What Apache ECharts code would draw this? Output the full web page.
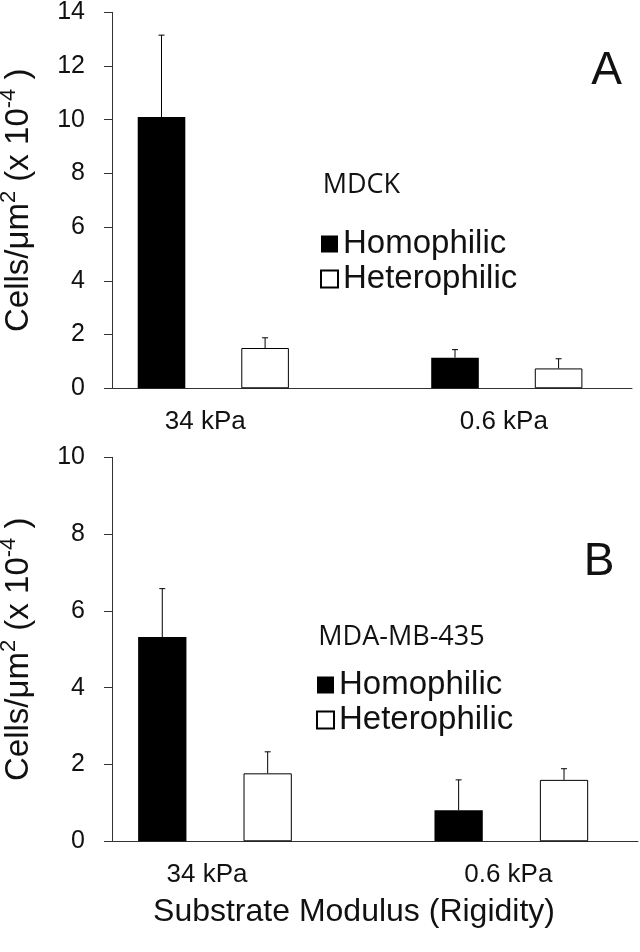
<!DOCTYPE html>
<html>
<head>
<meta charset="utf-8">
<script src="https://cdn.jsdelivr.net/npm/echarts@6/dist/echarts.min.js"></script>
<style>html,body{margin:0;padding:0;background:#fff;}#c{width:640px;height:952px;}</style>
</head>
<body>
<div id="c"></div>
<script>
// ---- data ----
const categories = ['34 kPa', '0.6 kPa'];
const seriesNames = ['Homophilic', 'Heterophilic'];
// Panel A (MDCK)
const homoA = [10.1, 1.14];
const homoErrA = [3.05, 0.30];
const heteroA = [1.50, 0.74];
const heteroErrA = [0.38, 0.36];
const yMaxA = 14, yStepA = 2;
// Panel B (MDA-MB-435)
const homoB = [5.32, 0.81];
const homoErrB = [1.26, 0.79];
const heteroB = [1.77, 1.60];
const heteroErrB = [0.56, 0.29];
const yMaxB = 10, yStepB = 2;

const FONT = '"Liberation Sans", Arial, sans-serif';
const TXT = '#111';
const LINE = '#333';

const chart = echarts.init(document.getElementById('c'), null, {renderer: 'canvas'});

function errRender(off) {
  return function (params, api) {
    const cat = api.value(0), v = api.value(1), e = api.value(2);
    const base = api.coord([cat, v]);
    const top = api.coord([cat, v + e]);
    const x = base[0] + off;
    const st = {stroke: '#000', lineWidth: 1};
    return {
      type: 'group',
      children: [
        {type: 'line', shape: {x1: x, y1: base[1], x2: x, y2: top[1]}, style: st},
        {type: 'line', shape: {x1: x - 3, y1: top[1], x2: x + 3, y2: top[1]}, style: st}
      ]
    };
  };
}
function errData(vals, errs) {
  return vals.map((v, i) => [i, v, errs[i]]);
}

const yName = '{m|Cells/\u03bcm}{s|2}{m| (x 10}{s|-4}{m| )}';
const yNameRich = {
  m: {fontSize: 33, fontFamily: FONT, color: TXT, lineHeight: 42},
  s: {fontSize: 22, fontFamily: FONT, color: TXT, lineHeight: 24, verticalAlign: 'top'}
};

function visAxes(gridIdx, max, step) {
  return {
    x: {
      type: 'category', gridIndex: gridIdx, data: categories,
      axisLine: {show: true, lineStyle: {color: LINE, width: 1}},
      axisTick: {show: false}, axisLabel: {show: false}
    },
    y: {
      type: 'value', gridIndex: gridIdx, min: 0, max: max, interval: step,
      axisLine: {show: true, lineStyle: {color: LINE, width: 1}},
      axisTick: {show: true, length: 8, lineStyle: {color: LINE, width: 1}},
      axisLabel: {fontSize: 25, fontFamily: FONT, color: TXT, margin: 27},
      splitLine: {show: false},
      name: yName, nameLocation: 'middle', nameGap: 72,
      nameTextStyle: {rich: yNameRich}
    }
  };
}
function barAxes(gridIdx, max, step) {
  return {
    x: {
      type: 'category', gridIndex: gridIdx, data: categories,
      axisLine: {show: false}, axisTick: {show: false},
      axisLabel: {
        fontSize: 26, fontFamily: FONT, color: TXT, margin: 21,
        formatter: function (v, i) { return i === 0 ? '{l|' + v + '}' : '{r|' + v + '}'; },
        rich: {
          l: {fontSize: 26, fontFamily: FONT, color: TXT, padding: [0, 16, 0, 0]},
          r: {fontSize: 26, fontFamily: FONT, color: TXT, padding: [0, 6, 0, 0]}
        }
      }
    },
    y: {
      type: 'value', gridIndex: gridIdx, min: 0, max: max, interval: step,
      show: false, splitLine: {show: false}
    }
  };
}

const vA = visAxes(0, yMaxA, yStepA), bA = barAxes(1, yMaxA, yStepA);
const vB = visAxes(2, yMaxB, yStepB), bB = barAxes(3, yMaxB, yStepB);

const BW_A = 47.6, GAP_A = 56, BW_B = 48.3, GAP_B = 57.1;

function barSeries(name, data, xi, bw, gap, black) {
  return {
    type: 'bar', name: name, xAxisIndex: xi, yAxisIndex: xi, data: data,
    barWidth: bw, barGap: (gap / bw * 100).toFixed(1) + '%',
    itemStyle: black ? {color: '#000'} : {color: '#fff', borderColor: '#000', borderWidth: 1},
    emphasis: {disabled: true}, z: 2
  };
}
function errSeries(vals, errs, xi, off) {
  return {
    type: 'custom', xAxisIndex: xi, yAxisIndex: xi,
    data: errData(vals, errs), renderItem: errRender(off), z: 3, silent: true
  };
}

const legendCommon = {
  data: seriesNames, orient: 'vertical', itemWidth: 17, itemHeight: 17, itemGap: 2,
  padding: 0, selectedMode: false, icon: 'rect',
  textStyle: {fontSize: 33, fontFamily: FONT, color: TXT, lineHeight: 30}
};

const G = {outerBoundsMode: 'none', containLabel: false};
const option = {
  animation: false,
  backgroundColor: '#fff',
  grid: [
    Object.assign({left: 112, width: 520, top: 12.3, height: 376}, G),
    Object.assign({left: 66.55, width: 587, top: 12.3, height: 376}, G),
    Object.assign({left: 112, width: 526, top: 457.3, height: 384}, G),
    Object.assign({left: 66.8, width: 592.7, top: 457.3, height: 384}, G)
  ],
  xAxis: [vA.x, bA.x, vB.x, bB.x],
  yAxis: [vA.y, bA.y, vB.y, bB.y],
  legend: [
    Object.assign({left: 320, top: 227.5}, legendCommon),
    Object.assign({left: 316, top: 668.5}, legendCommon)
  ],
  series: [
    barSeries('Homophilic', homoA, 1, BW_A, GAP_A, true),
    barSeries('Heterophilic', heteroA, 1, BW_A, GAP_A, false),
    errSeries(homoA, homoErrA, 1, -(BW_A + GAP_A) / 2),
    errSeries(heteroA, heteroErrA, 1, (BW_A + GAP_A) / 2),
    barSeries('Homophilic', homoB, 3, BW_B, GAP_B, true),
    barSeries('Heterophilic', heteroB, 3, BW_B, GAP_B, false),
    errSeries(homoB, homoErrB, 3, -(BW_B + GAP_B) / 2),
    errSeries(heteroB, heteroErrB, 3, (BW_B + GAP_B) / 2)
  ],
  graphic: [
    {type: 'text', x: 606.7, y: 71.7, style: {text: 'A', font: '46px ' + FONT, fill: TXT, align: 'center', verticalAlign: 'middle'}},
    {type: 'text', x: 599, y: 562.7, style: {text: 'B', font: '46px ' + FONT, fill: TXT, align: 'center', verticalAlign: 'middle'}},
    {type: 'text', x: 322.7, y: 185.5, style: {text: 'MDCK', font: '27px "Open Sans", sans-serif', fill: TXT, align: 'left', verticalAlign: 'middle'}},
    {type: 'text', x: 318.3, y: 637, style: {text: 'MDA-MB-435', font: '27px "Open Sans", sans-serif', fill: TXT, align: 'left', verticalAlign: 'middle'}},
    {type: 'text', x: 354, y: 912, style: {text: 'Substrate Modulus (Rigidity)', font: '32px ' + FONT, fill: TXT, align: 'center', verticalAlign: 'middle'}}
  ]
};
chart.setOption(option);
</script>
</body>
</html>
